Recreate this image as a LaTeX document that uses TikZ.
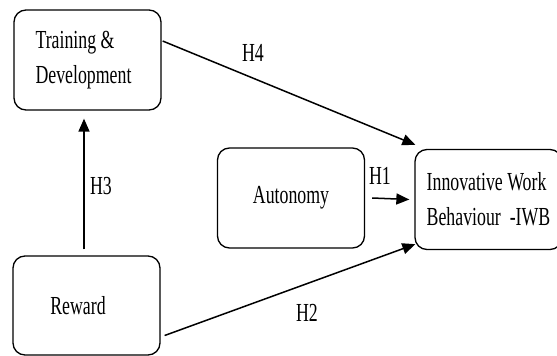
\documentclass[tikz,border=0pt]{standalone}
\usepackage{fontspec}
\setmainfont[FakeStretch=0.685]{Liberation Serif}
\usetikzlibrary{arrows.meta}
\begin{document}
\begin{tikzpicture}[x=1pt,y=-1pt,
  box/.style={draw=black,line width=1.3pt,rounded corners=12pt,minimum width=147pt,minimum height=100pt,
    align=left,inner sep=0pt,font=\fontsize{26}{35}\selectfont},
  lbl/.style={font=\fontsize{26}{35}\selectfont,inner sep=0pt},
  conn/.style={line width=1.5pt,-{Triangle[length=13pt,width=11pt]}}]
\useasboundingbox (0,0) rectangle (557,356);
\begin{scope}
\clip (0,0) rectangle (557,356);
\node[box] (train) at (87.5,60) {Training \&\\Development\hspace*{8pt}};
\node[box] (auto) at (291,198) {Autonomy};
\node[box] (iwb) at (488.5,199.5) {Innovative Work\\Behaviour\ \ -IWB};
\node[box,minimum height=99pt] (reward) at (86.5,305.5) {Reward\hspace*{17pt}};
\end{scope}
\draw[conn] ([xshift=1pt,yshift=19pt]train.east) -- ([xshift=1pt,yshift=4pt]iwb.north west);
\draw[conn] ([xshift=4pt,yshift=-30pt]reward.east) -- ([xshift=1pt,yshift=6pt]iwb.south west);
\draw[conn] ([xshift=7pt]auto.east) -- ([xshift=-5pt]iwb.west);
\draw[conn] ([xshift=-2.5pt,yshift=6pt]reward.north) -- ([xshift=-3.5pt,yshift=-8pt]train.south);
\node[lbl] (h4) at (253,53) {H4};
\node[lbl] (h3) at (101,186) {H3};
\node[lbl] (h1) at (380,176) {H1};
\node[lbl] (h2) at (307,313) {H2};
\end{tikzpicture}
\end{document}
